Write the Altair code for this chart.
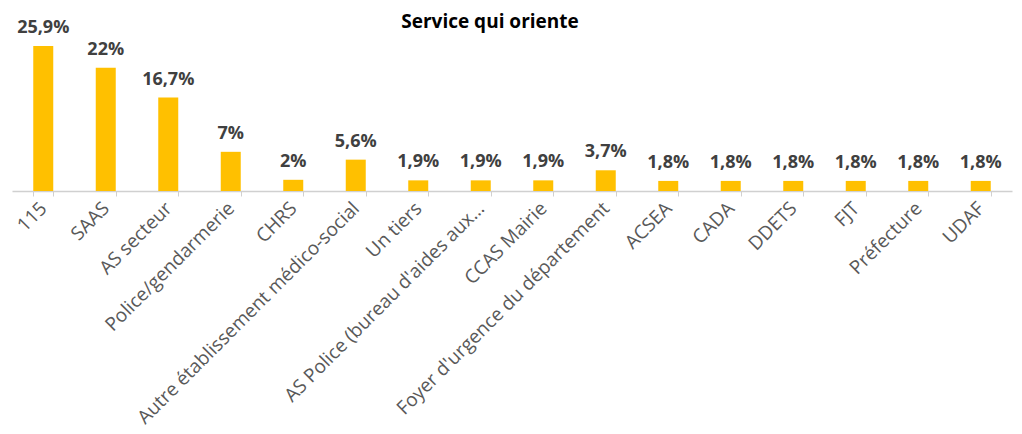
import altair as alt
import pandas as pd

title_text = ["Service qui oriente"]
categories = ["115", "SAAS", "AS secteur", "Police/gendarmerie", "CHRS",
              "Autre établissement médico-social", "Un tiers",
              "AS Police (bureau d'aides aux…", "CCAS Mairie",
              "Foyer d'urgence du département", "ACSEA", "CADA", "DDETS",
              "FJT", "Préfecture", "UDAF"]
values = [25.9, 22, 16.7, 7, 2, 5.6, 1.9, 1.9, 1.9, 3.7, 1.8, 1.8, 1.8, 1.8, 1.8, 1.8]
labels = [f"{v:g}".replace(".", ",") + "%" for v in values]

df = pd.DataFrame({"cat": categories, "val": values, "lab": labels})
tdf = pd.DataFrame({"t": title_text})

FONT = "Open Sans"

x = alt.X("cat:N", sort=categories, title=None,
          scale=alt.Scale(paddingInner=0.68, paddingOuter=0.34),
          axis=alt.Axis(labelAngle=-45, labelAlign="right", labelBaseline="middle",
                        labelPadding=9, labelFontSize=19, labelColor="#595959",
                        labelFont=FONT, labelLimit=0, labelOverlap=False,
                        tickBand="extent", tickSize=5, tickColor="#D0D0D0",
                        domainColor="#D0D0D0", domainWidth=1.5))
y = alt.Y("val:Q", scale=alt.Scale(domain=[0, 28.76], nice=False, zero=True), axis=None)

bars = alt.Chart(df).mark_bar(color="#FFC000").encode(x=x, y=y)
text = alt.Chart(df).mark_text(baseline="alphabetic", dy=-13, fontSize=18,
                               fontWeight="bold", color="#404040", font=FONT).encode(
    x=alt.X("cat:N", sort=categories), y="val:Q", text="lab:N")
title = alt.Chart(tdf).mark_text(baseline="alphabetic", align="center", fontSize=19,
                                 fontWeight="bold", color="#000000", font=FONT).encode(
    x=alt.value(478), y=alt.value(-2), text="t:N")

chart = (bars + text + title).properties(
    width=1000, height=161,
    autosize=alt.AutoSizeParams(type="none"),
    padding={"left": 4, "top": 22, "right": 2, "bottom": 235},
).configure_view(stroke=None)

chart.save("out.html", embed_options={"renderer": "svg", "actions": False})
